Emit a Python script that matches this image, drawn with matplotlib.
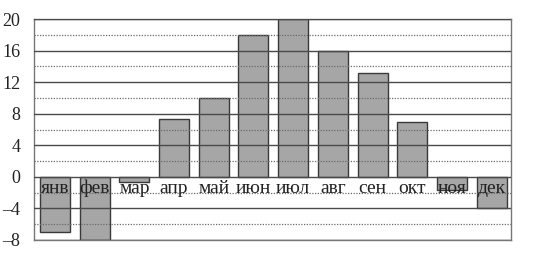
import numpy as np
import matplotlib
matplotlib.use("Agg")
import matplotlib.pyplot as plt

# monthly values
months = ["янв", "фев", "мар", "апр", "май", "июн",
          "июл", "авг", "сен", "окт", "ноя", "дек"]
values = [-7, -8, -0.6, 7.3, 10, 18, 20, 16, 13.2, 6.9, -1.7, -4]
major_ticks = [-8, -4, 0, 4, 8, 12, 16, 20]
minor_ticks = [-6, -2, 2, 6, 10, 14, 18]


def main():
    plt.rcParams['font.family'] = ['Liberation Serif', 'DejaVu Serif']
    fig = plt.figure(figsize=(5.57, 2.57), dpi=100)
    ax = fig.add_axes([34.3 / 557, 1 - 240 / 257, 476.4 / 557, 221 / 257])

    x = np.arange(len(months))
    ax.bar(x, values, width=0.755, color="#a6a6a6", edgecolor="#3a3a3a",
           linewidth=1.0, zorder=2)

    # solid grid at labelled ticks, dotted in between
    for t in major_ticks:
        ax.axhline(t, color="#4a4a4a", linewidth=1.0, zorder=3)
    for t in minor_ticks:
        ax.axhline(t, color="#6a6a6a", linewidth=0.9, linestyle=(0, (1, 1.2)),
                   zorder=3)

    for xi, name in zip(x, months):
        ax.text(xi, -0.35, name, ha="center", va="top", fontsize=14,
                color="#222222", zorder=4)

    ax.set_xlim(-0.52, 11.48)
    ax.set_ylim(-8, 20)
    ax.set_xticks([])
    ax.set_yticks(major_ticks)
    ax.set_yticklabels([str(t).replace("-", "\u2013") for t in major_ticks],
                       fontsize=13, color="#222222")
    ax.tick_params(axis="y", length=0, pad=10)
    for side in ax.spines.values():
        side.set_color("#777777")
        side.set_linewidth(1.0)

    fig.savefig("out.png", dpi=100)


if __name__ == "__main__":
    main()
